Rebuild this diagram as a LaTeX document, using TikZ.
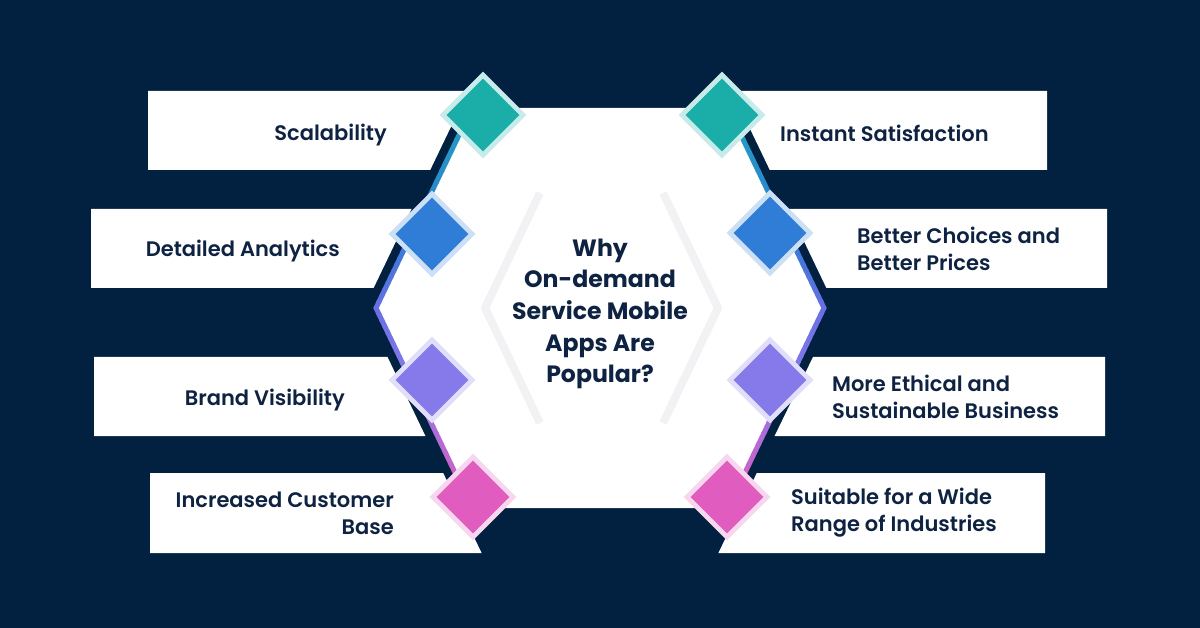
\documentclass[tikz,border=0pt]{standalone}
\usepackage{fontspec}
\usetikzlibrary{shapes.geometric,calc}
\IfFontExistsTF{Poppins Bold}{\newfontfamily\titlefont{Poppins Bold}}{\newfontfamily\titlefont{Poppins}[FakeBold=2]}
\IfFontExistsTF{Poppins SemiBold}{\newfontfamily\labelfont{Poppins SemiBold}}{\newfontfamily\labelfont{Poppins}[FakeBold=1]}
\definecolor{bg}{HTML}{02203F}
\definecolor{ink}{HTML}{0E2242}
\definecolor{lteal}{HTML}{1FA2BE}
\definecolor{cteal}{HTML}{1BAEA9}
\definecolor{cblue}{HTML}{2F7DD6}
\definecolor{cviolet}{HTML}{6670E2}
\definecolor{cpurple}{HTML}{8679EA}
\definecolor{cpink}{HTML}{E05CBE}
\definecolor{chev}{HTML}{F2F2F4}
\newcommand\gradseg[4]{%
  \foreach \k in {0,...,11}{%
    \pgfmathsetmacro\ta{\k/12}%
    \pgfmathsetmacro\tb{(\k+1)/12}%
    \pgfmathtruncatemacro\pc{100-(\k+0.5)/12*100}%
    \draw[gline,color=#3!\pc!#4] ($(#1)!\ta!(#2)$) -- ($(#1)!\tb!(#2)$);}}
\tikzset{
  box/.style={fill=white},
  gline/.style={line width=5pt,line cap=round},
  chevline/.style={draw=chev,line width=8pt,line join=round},
  dm/.style={diamond,minimum width=73pt,minimum height=73pt,inner sep=0pt,draw=none,fill=#1},
  halo/.style={diamond,minimum width=87pt,minimum height=87pt,inner sep=0pt,draw=none,fill=#1!25!white},
  lbl/.style={text=ink,font=\labelfont\fontsize{21}{27}\selectfont,inner sep=0pt},
  ttl/.style={text=ink,font=\titlefont\fontsize{23.6}{31.7}\selectfont,inner sep=0pt,align=center}
}
\begin{document}
\begin{tikzpicture}[x=1pt,y=-1pt]
\useasboundingbox (0,0) rectangle (1200,628);
\fill[bg] (0,0) rectangle (1200,628);
% boxes
\path[box] (148,91) -- (468.2,91) -- (430.2,170) -- (148,170) -- cycle;
\path[box] (91,209) -- (411.5,209) -- (373.6,288) -- (91,288) -- cycle;
\path[box] (94,357) -- (387.5,357) -- (425.4,436) -- (94,436) -- cycle;
\path[box] (150,473) -- (443.2,473) -- (481.6,553) -- (150,553) -- cycle;
\path[box] (731.8,91) -- (1047,91) -- (1047,170) -- (769.8,170) -- cycle;
\path[box] (788.5,209) -- (1107,209) -- (1107,288) -- (826.4,288) -- cycle;
\path[box] (813,357) -- (1105,357) -- (1105,436) -- (774.6,436) -- cycle;
\path[box] (756.8,473) -- (1045,473) -- (1045,553) -- (718.4,553) -- cycle;
% hexagon
\coordinate (HTL) at (472,108);
\coordinate (HL) at (376,308);
\coordinate (HBL) at (472,508);
\coordinate (HBR) at (728,508);
\coordinate (HR) at (824,308);
\coordinate (HTR) at (728,108);
\fill[white] (HTL) -- (HL) -- (HBL) -- (HBR) -- (HR) -- (HTR) -- cycle;
% chevrons
\coordinate (CL1) at (540,193); \coordinate (CL2) at (485,308); \coordinate (CL3) at (540,423);
\coordinate (CR1) at (663,193); \coordinate (CR2) at (718,308); \coordinate (CR3) at (663,423);
\draw[chevline] (CL1) -- (CL2) -- (CL3);
\draw[chevline] (CR1) -- (CR2) -- (CR3);
% gradient border
\coordinate (PbL) at ($(HTL)!0.63!(HL)$);
\coordinate (PpL) at ($(HL)!0.36!(HBL)$);
\coordinate (PbR) at ($(HTR)!0.63!(HR)$);
\coordinate (PpR) at ($(HR)!0.36!(HBR)$);
\gradseg{HTL}{PbL}{lteal}{cblue}
\gradseg{PbL}{HL}{cblue}{cviolet}
\gradseg{HL}{PpL}{cviolet}{cpurple}
\gradseg{PpL}{HBL}{cpurple}{cpink}
\gradseg{HTR}{PbR}{lteal}{cblue}
\gradseg{PbR}{HR}{cblue}{cviolet}
\gradseg{HR}{PpR}{cviolet}{cpurple}
\gradseg{PpR}{HBR}{cpurple}{cpink}
% diamonds
\node[halo=cteal] (hL1) at (483,115) {};
\node[dm=cteal] (dL1) at (483,115) {};
\node[halo=cblue] (hL2) at (432,234) {};
\node[dm=cblue] (dL2) at (432,234) {};
\node[halo=cpurple] (hL3) at (432,380) {};
\node[dm=cpurple] (dL3) at (432,380) {};
\node[halo=cpink] (hL4) at (473,497) {};
\node[dm=cpink] (dL4) at (473,497) {};
\node[halo=cteal] (hR1) at (722,115) {};
\node[dm=cteal] (dR1) at (722,115) {};
\node[halo=cblue] (hR2) at (770,233) {};
\node[dm=cblue] (dR2) at (770,233) {};
\node[halo=cpurple] (hR3) at (770,380) {};
\node[dm=cpurple] (dR3) at (770,380) {};
\node[halo=cpink] (hR4) at (727,497) {};
\node[dm=cpink] (dR4) at (727,497) {};
% labels
\node[lbl,anchor=east] (tL1) at (387,135) {Scalability};
\node[lbl,anchor=east] (tL2) at (340,251.5) {Detailed Analytics};
\node[lbl,anchor=east] (tL3) at (345,400) {Brand Visibility};
\node[lbl,anchor=east,align=right] (tL4) at (394,513) {Increased Customer\\Base};
\node[lbl,anchor=west] (tR1) at (780,133) {Instant Satisfaction};
\node[lbl,anchor=west,align=left] (tR2) at (857,249) {Better Choices and\\Better Prices};
\node[lbl,anchor=west,align=left] (tR3) at (832,397) {More Ethical and\\Sustainable Business};
\node[lbl,anchor=west,align=left] (tR4) at (791,513) {Suitable for a Wide\\Range of Industries};
\node[ttl] (title) at (600,314) {Why\\On-demand\\Service Mobile\\Apps Are\\Popular?};
\end{tikzpicture}
\end{document}
